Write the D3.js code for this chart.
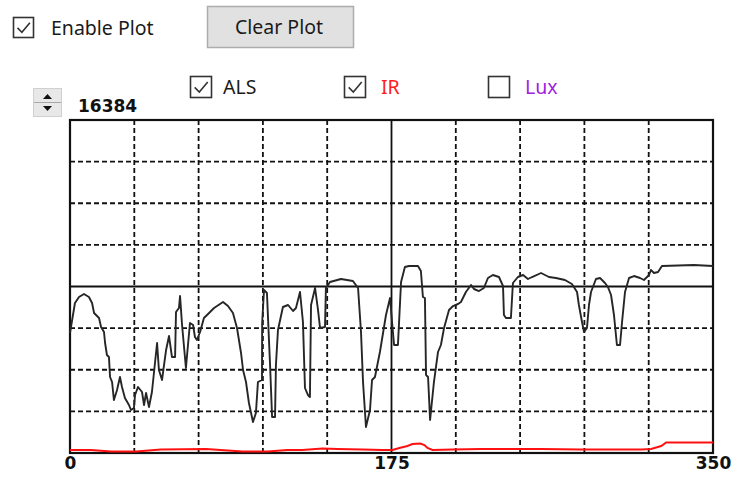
<!DOCTYPE html>
<html><head><meta charset="utf-8">
<script src="https://cdn.jsdelivr.net/npm/d3@7"></script>
<style>body{margin:0;background:#fff;overflow:hidden} svg{display:block}</style>
</head><body>
<svg id="c" width="733" height="477"></svg>
<script>
// ---- data ----
const xTicks = [0, 175, 350];
const yMax = 16384;
const yMaxLabel = "16384";
const seriesNames = ["ALS", "IR", "Lux"];
const seriesChecked = [true, true, false];

const alsSamples = [0,2.7,4.9,7.6,10.3,12.0,13.1,15.8,16.9,18.5,19.1,20.1,21.2,21.8,22.9,23.9,25.6,27.2,28.3,29.9,32.1,33.2,34.8,35.4,37.0,39.2,40.3,41.4,43.0,44.6,47.4,48.4,50.1,52.3,53.9,55.5,57.2,57.7,59.3,59.9,61.0,63.1,65.3,67.0,68.0,69.1,70.8,72.9,75.7,78.4,83.3,86.0,88.7,90.9,93.1,94.2,95.8,97.4,99.6,101.2,102.3,104.5,104.6,105.6,107.2,108.9,110.0,111.6,112.1,113.2,115.9,118.7,121.4,123.0,125.2,126.8,127.9,129.5,130.6,131.2,133.4,135.0,136.1,138.8,139.3,141.5,147.5,154.0,156.8,158.4,159.5,161.1,163.3,164.4,166.0,168.7,172.0,174.2,175.3,176.4,178.5,180.2,182.3,184.5,189.4,191.0,192.1,193.2,193.8,194.9,196.0,198.1,200.3,201.9,203.6,206.3,208.5,211.2,212.8,215.5,218.3,219.9,222.6,225.3,227.5,230.2,233.5,235.7,236.2,237.3,240.0,241.1,243.8,246.6,249.3,251.5,256.4,260.7,264.5,269.4,273.2,276.0,277.0,278.7,279.8,281.4,282.5,283.6,286.3,288.5,291.2,292.8,294.5,296.1,297.7,299.4,300.5,302.1,304.3,307.0,310.3,312.4,315.2,316.2,317.9,320.1,322.2,339.6,350];
const alsValues = [5904,7380,7675,7823,7675,7380,6888,6642,6199,5953,5412,4822,4723,3739,3493,2608,3100,3739,3247,2706,2362,2116,2214,2854,3247,3001,2362,2952,2263,3001,5412,4084,3592,5068,5756,4723,4723,6937,7134,7724,6298,4182,6396,6298,5707,5560,5953,6642,6888,7134,7429,7232,6888,6150,4920,4084,3493,2460,1525,1968,3493,3592,6396,8020,7872,4330,1771,1771,4330,6052,7183,7282,6986,7134,7921,6445,3198,2854,2755,7282,8118,7036,6150,6199,8118,8413,8561,8462,8118,5953,3493,1279,2116,3592,3739,4969,6790,7626,6445,5314,5314,8413,9151,9200,9200,8954,7675,7626,3838,3739,1624,3493,4969,5314,6150,7036,7232,7331,7429,7921,8266,8069,7970,8118,8610,8758,8659,8216,6790,6642,6642,8364,8659,8758,8561,8659,8856,8659,8610,8512,8315,7921,7282,6445,5953,6150,7282,7921,8561,8610,8364,8167,7774,6790,5314,5314,6445,7921,8610,8708,8610,8512,8758,9004,8856,8905,9200,9250,9200];

const irSamples = [0,11.4,22.3,35.9,49.5,74,93.9,107.5,118.4,126.5,137.4,145.6,159.2,170,175.5,179.3,183.7,186.4,190.7,192.9,194.6,197.3,208.2,223.8,256.5,278.2,310.9,316.3,321.8,324.5,350];
const irValues = [148,148,74,74,172,197,74,74,148,148,221,197,172,148,148,246,344,443,467,394,246,148,172,197,197,172,172,197,344,517,517];

// ---- layout ----
const svg = d3.select("#c");
const L = 70, R = 713, T = 120, B = 453;
const x = d3.scaleLinear().domain([0, 350]).range([L, R]);
const y = d3.scaleLinear().domain([0, yMax]).range([B, T]);
const uiFont = "'Noto Sans', 'Open Sans', sans-serif";
const uiSize = 19.5;

function checkbox(g, cx, cy, size, checked) {
  g.append("rect").attr("x", cx).attr("y", cy).attr("width", size).attr("height", size)
    .attr("fill", "#fff").attr("stroke", "#333").attr("stroke-width", 1.6);
  if (checked) {
    const s = size;
    g.append("path")
      .attr("d", `M${cx + s*0.2},${cy + s*0.52} L${cx + s*0.42},${cy + s*0.74} L${cx + s*0.82},${cy + s*0.26}`)
      .attr("fill", "none").attr("stroke", "#333").attr("stroke-width", 1.6);
  }
}
const ui = svg.append("g");
checkbox(ui, 13.5, 17.5, 20, true);
ui.append("text").attr("x", 51).attr("y", 35).attr("font-family", uiFont).attr("font-size", uiSize)
  .attr("fill", "#1a1a1a").text("Enable Plot");

// Clear Plot button
ui.append("rect").attr("x", 207.5).attr("y", 6.5).attr("width", 146).attr("height", 41)
  .attr("fill", "#e1e1e1").attr("stroke", "#adadad").attr("stroke-width", 1.5);
ui.append("text").attr("x", 279).attr("y", 34).attr("text-anchor", "middle")
  .attr("font-family", uiFont).attr("font-size", uiSize).attr("fill", "#1a1a1a").text("Clear Plot");

// series checkboxes
const legendX = [190, 344, 488];
const legendTextDx = [33, 37, 37];
const legendColors = ["#1a1a1a", "#ff2020", "#a020e0"];
seriesNames.forEach((n, i) => {
  checkbox(ui, legendX[i] + 0.5, 76.5, 21, seriesChecked[i]);
  ui.append("text").attr("x", legendX[i] + legendTextDx[i]).attr("y", 94).attr("font-family", uiFont)
    .attr("font-size", uiSize).attr("fill", legendColors[i]).text(n);
});

// spinner
const sp = ui.append("g");
sp.append("rect").attr("x", 33.5).attr("y", 88.5).attr("width", 28).attr("height", 28)
  .attr("fill", "#e8e8e8").attr("stroke", "#d0d0d0");
sp.append("line").attr("x1", 34).attr("x2", 61).attr("y1", 102.5).attr("y2", 102.5).attr("stroke", "#a8a8a8");
sp.append("path").attr("d", "M43,99 L52,99 L47.5,94 Z").attr("fill", "#111");
sp.append("path").attr("d", "M43,106 L52,106 L47.5,111 Z").attr("fill", "#111");
ui.append("text").attr("x", 78).attr("y", 112).attr("font-family", "'DejaVu Sans', sans-serif")
  .attr("font-weight", "bold").attr("font-size", 17).attr("fill", "#111").text(yMaxLabel);

// grid
const plot = svg.append("g");
const vLines = d3.range(1, 10).map(i => i * 35);
const hLines = d3.range(1, 8).map(i => i * yMax / 8);
plot.selectAll(".vg").data(vLines).join("line")
  .attr("x1", d => x(d)).attr("x2", d => x(d)).attr("y1", T).attr("y2", B)
  .attr("stroke", "#111").attr("stroke-width", 1.8)
  .attr("stroke-dasharray", d => d === 175 ? null : "5,3");
plot.selectAll(".hg").data(hLines).join("line")
  .attr("y1", d => y(d)).attr("y2", d => y(d)).attr("x1", L).attr("x2", R)
  .attr("stroke", "#111").attr("stroke-width", 1.8)
  .attr("stroke-dasharray", d => d === yMax / 2 ? null : "5,3");
plot.append("rect").attr("x", L).attr("y", T).attr("width", R - L).attr("height", B - T)
  .attr("fill", "none").attr("stroke", "#111").attr("stroke-width", 2.2);

// series
const line = d3.line().x(d => x(d[0])).y(d => y(d[1]));
plot.append("path").datum(irSamples.map((s, i) => [s, irValues[i]]))
  .attr("d", line).attr("fill", "none").attr("stroke", "#ff1010").attr("stroke-width", 2);
plot.append("path").datum(alsSamples.map((s, i) => [s, alsValues[i]]))
  .attr("d", line).attr("fill", "none").attr("stroke", "#262626").attr("stroke-width", 1.9)
  .attr("stroke-linejoin", "round");

// x tick labels
const ax = d3.axisBottom(x).tickValues(xTicks).tickSize(0).tickPadding(4);
const axg = svg.append("g").attr("transform", `translate(0,${B})`).call(ax);
axg.select(".domain").remove();
axg.selectAll("text").attr("font-family", "'DejaVu Sans', sans-serif").attr("font-weight", "bold")
  .attr("font-size", 17).attr("fill", "#111");
</script>
</body></html>
